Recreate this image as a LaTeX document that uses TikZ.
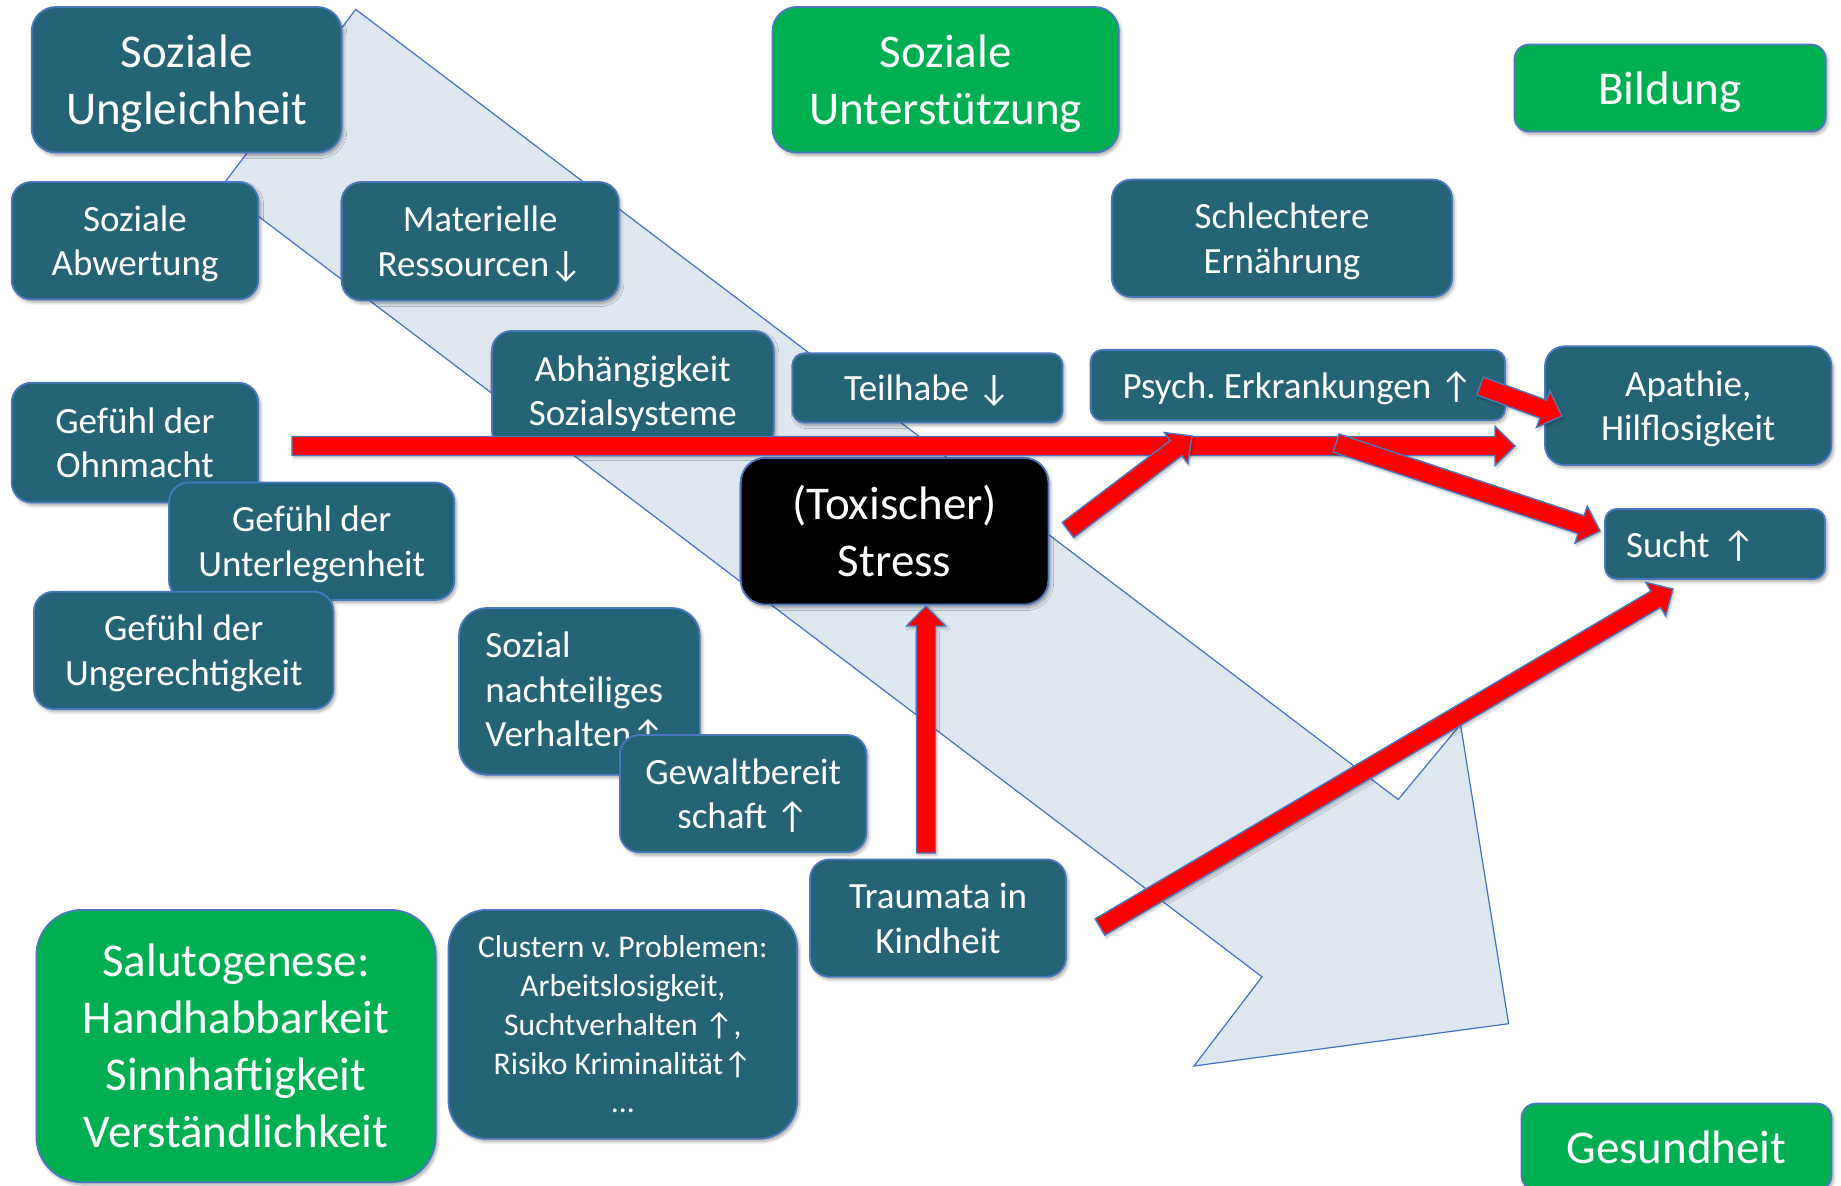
\documentclass[tikz,border=0pt]{standalone}
\usepackage{fontspec}
\setmainfont{Carlito}
\usetikzlibrary{calc,shadows.blur}
\frenchspacing

\definecolor{tealbox}{RGB}{37,100,119}
\definecolor{greenbox}{RGB}{0,176,80}
\definecolor{edgeblue}{RGB}{74,120,190}
\definecolor{flowfill}{RGB}{222,230,239}
\definecolor{flowedge}{RGB}{68,114,196}

\newcommand\bigfs{\fontsize{23.5}{28.5}\selectfont}
\newcommand\midfs{\fontsize{18.5}{22.3}\selectfont}
\newcommand\smallfs{\fontsize{15.8}{19.4}\selectfont}

\tikzset{
  card/.style={draw=edgeblue, line width=0.9pt, text=white, align=center, inner sep=0pt,
    text depth=0pt,
    blur shadow={shadow xshift=1pt, shadow yshift=-1.4pt, shadow blur radius=1.6pt,
      shadow opacity=35, shadow blur steps=6}},
  tealcard/.style={card, fill=tealbox, font=\midfs},
  tealbig/.style={card, fill=tealbox, font=\bigfs},
  greencard/.style={card, fill=greenbox, font=\bigfs},
  blackcard/.style={card, fill=black, font=\bigfs},
  flowarrow/.style={fill=flowfill, draw=flowedge, line width=0.6pt},
  redblock/.style={fill=red, draw=edgeblue, line width=0.7pt, line join=miter,
    blur shadow={shadow xshift=0.8pt, shadow yshift=-1.2pt, shadow blur radius=1.2pt,
      shadow opacity=25, shadow blur steps=5}}
}

% rounded box given by its corners (x1,y1) and (x2,y2)
\newcommand\boxat[7]{%
  \pgfmathsetmacro\bxw{(#5-#3)*0.5}%
  \pgfmathsetmacro\bxh{(#6-#4)*0.5}%
  \pgfmathsetmacro\bxr{min(\bxw,\bxh)/6}%
  \node[#2, minimum width=\bxw pt, minimum height=\bxh pt, rounded corners=\bxr pt]
    (#1) at ({(#3+#5)/2},{(#4+#6)/2}) {#7};}

% red block arrow from one named coordinate to another
\newcommand\redarrow[2]{%
  \path let \p1=(#1), \p2=(#2) in
    \pgfextra{%
      \pgfmathsetmacro\rarTa{atan2(\y2-\y1,\x2-\x1)}%
      \pgfmathsetmacro\rarTl{veclen(\x2-\x1,\y2-\y1)}%
      \xdef\rarA{\rarTa}\xdef\rarL{\rarTl}%
      \xdef\rarX{\x1}\xdef\rarY{\y1}};
  \draw[redblock, shift={(\rarX,\rarY)}, rotate=\rarA]
    (0pt,-4.75pt) -- ({\rarL pt-10pt},-4.75pt) -- ({\rarL pt-10pt},-9.75pt)
    -- (\rarL pt,0pt) -- ({\rarL pt-10pt},9.75pt) -- ({\rarL pt-10pt},4.75pt)
    -- (0pt,4.75pt) -- cycle;}

\begin{document}
\begin{tikzpicture}[x=0.5pt,y=-0.5pt]
\useasboundingbox (0,0) rectangle (1841,1186);

% broad background arrow
\draw[flowarrow] (355.7,9.4) -- (1398.2,799.5) -- (1460.5,724.4) -- (1508.6,1023.7)
  -- (1194,1066) -- (1262,976.8) -- (220.7,187.8) -- cycle;

% headline boxes
\boxat{ungleich}{tealbig}{31.7}{7}{341.6}{152.6}{Soziale\\Ungleichheit}
\boxat{unterst}{greencard}{772.5}{7}{1118.8}{152.6}{Soziale\\Unterstützung}
\boxat{bildung}{greencard}{1514.5}{44.6}{1825.6}{131.5}{Bildung}

% factors
\boxat{abwert}{tealcard}{11.7}{182}{258.3}{299.4}{Soziale\\Abwertung}
\boxat{ressourcen}{tealcard}{341.6}{182}{618.7}{300.5}{Materielle\\Ressourcen↓}
\boxat{ernaehrung}{tealcard}{1111.8}{179.6}{1452.2}{297}{Schlechtere\\Ernährung}
\boxat{abhaengig}{tealcard}{491.9}{331}{773.7}{450}{Abhängigkeit\\Sozialsysteme}
\boxat{teilhabe}{tealcard}{792.5}{353.4}{1062.5}{422.6}{Teilhabe ↓}
\boxat{psych}{tealcard}{1090.6}{349.9}{1505}{420.3}{Psych. Erkrankungen ↑}
\boxat{apathie}{tealcard}{1545}{346.3}{1831.4}{465}{Apathie,\\Hilflosigkeit}
\boxat{ohnmacht}{tealcard}{11.7}{382.7}{258.3}{502.5}{Gefühl der\\Ohnmacht}
\boxat{unterleg}{tealcard}{169}{482.5}{454.3}{600}{Gefühl der\\Unterlegenheit}
\boxat{ungerecht}{tealcard}{34}{591.7}{333.4}{709}{Gefühl der\\Ungerechtigkeit}
\boxat{stress}{blackcard}{740.8}{457.9}{1048.4}{604.6}{(Toxischer)\\Stress}
\boxat{sucht}{tealcard, align=left, inner xsep=10.5pt, text width=89pt}{1605}{509}{1825}{579}{Sucht ↑}
\boxat{verhalten}{tealcard, align=left, inner xsep=13pt, text width=94pt, text depth={}}{459}{608}{699.7}{774.7}{Sozial\\nachteiliges\\Verhalten↑}
\boxat{gewalt}{tealcard}{619.9}{735}{866.4}{852.3}{Gewaltbereit\\schaft ↑}
\boxat{trauma}{tealcard}{810}{859.4}{1066}{976.8}{Traumata in\\Kindheit}
\boxat{cluster}{tealcard, font=\smallfs}{448.5}{909.9}{797.1}{1138.8}{Clustern v. Problemen:\\Arbeitslosigkeit,\\Suchtverhalten ↑,\\Risiko Kriminalität↑\\...}
\boxat{saluto}{greencard}{36.4}{909.9}{435.6}{1182.2}{Salutogenese:\\Handhabbarkeit\\Sinnhaftigkeit\\Verständlichkeit}
\boxat{gesund}{greencard}{1521.5}{1103.6}{1831.4}{1190}{Gesundheit}

% ends of the red arrows
\coordinate (hb0) at (292,446);   \coordinate (hb1) at (1515,446);
\coordinate (sp0) at (1068,530);  \coordinate (sp1) at (1192,436);
\coordinate (hs0) at (1336,443);  \coordinate (hs1) at (1600,531);
\coordinate (pa0) at (1480,386);  \coordinate (pa1) at (1562,416);
\coordinate (tv0) at (926,853);   \coordinate (tv1) at (926,606);
\coordinate (ts0) at (1100,927);  \coordinate (ts1) at (1673,589);

\redarrow{hb0}{hb1}
\redarrow{sp0}{sp1}
\redarrow{hs0}{hs1}
\redarrow{pa0}{pa1}
\redarrow{tv0}{tv1}
\redarrow{ts0}{ts1}
\end{tikzpicture}
\end{document}
